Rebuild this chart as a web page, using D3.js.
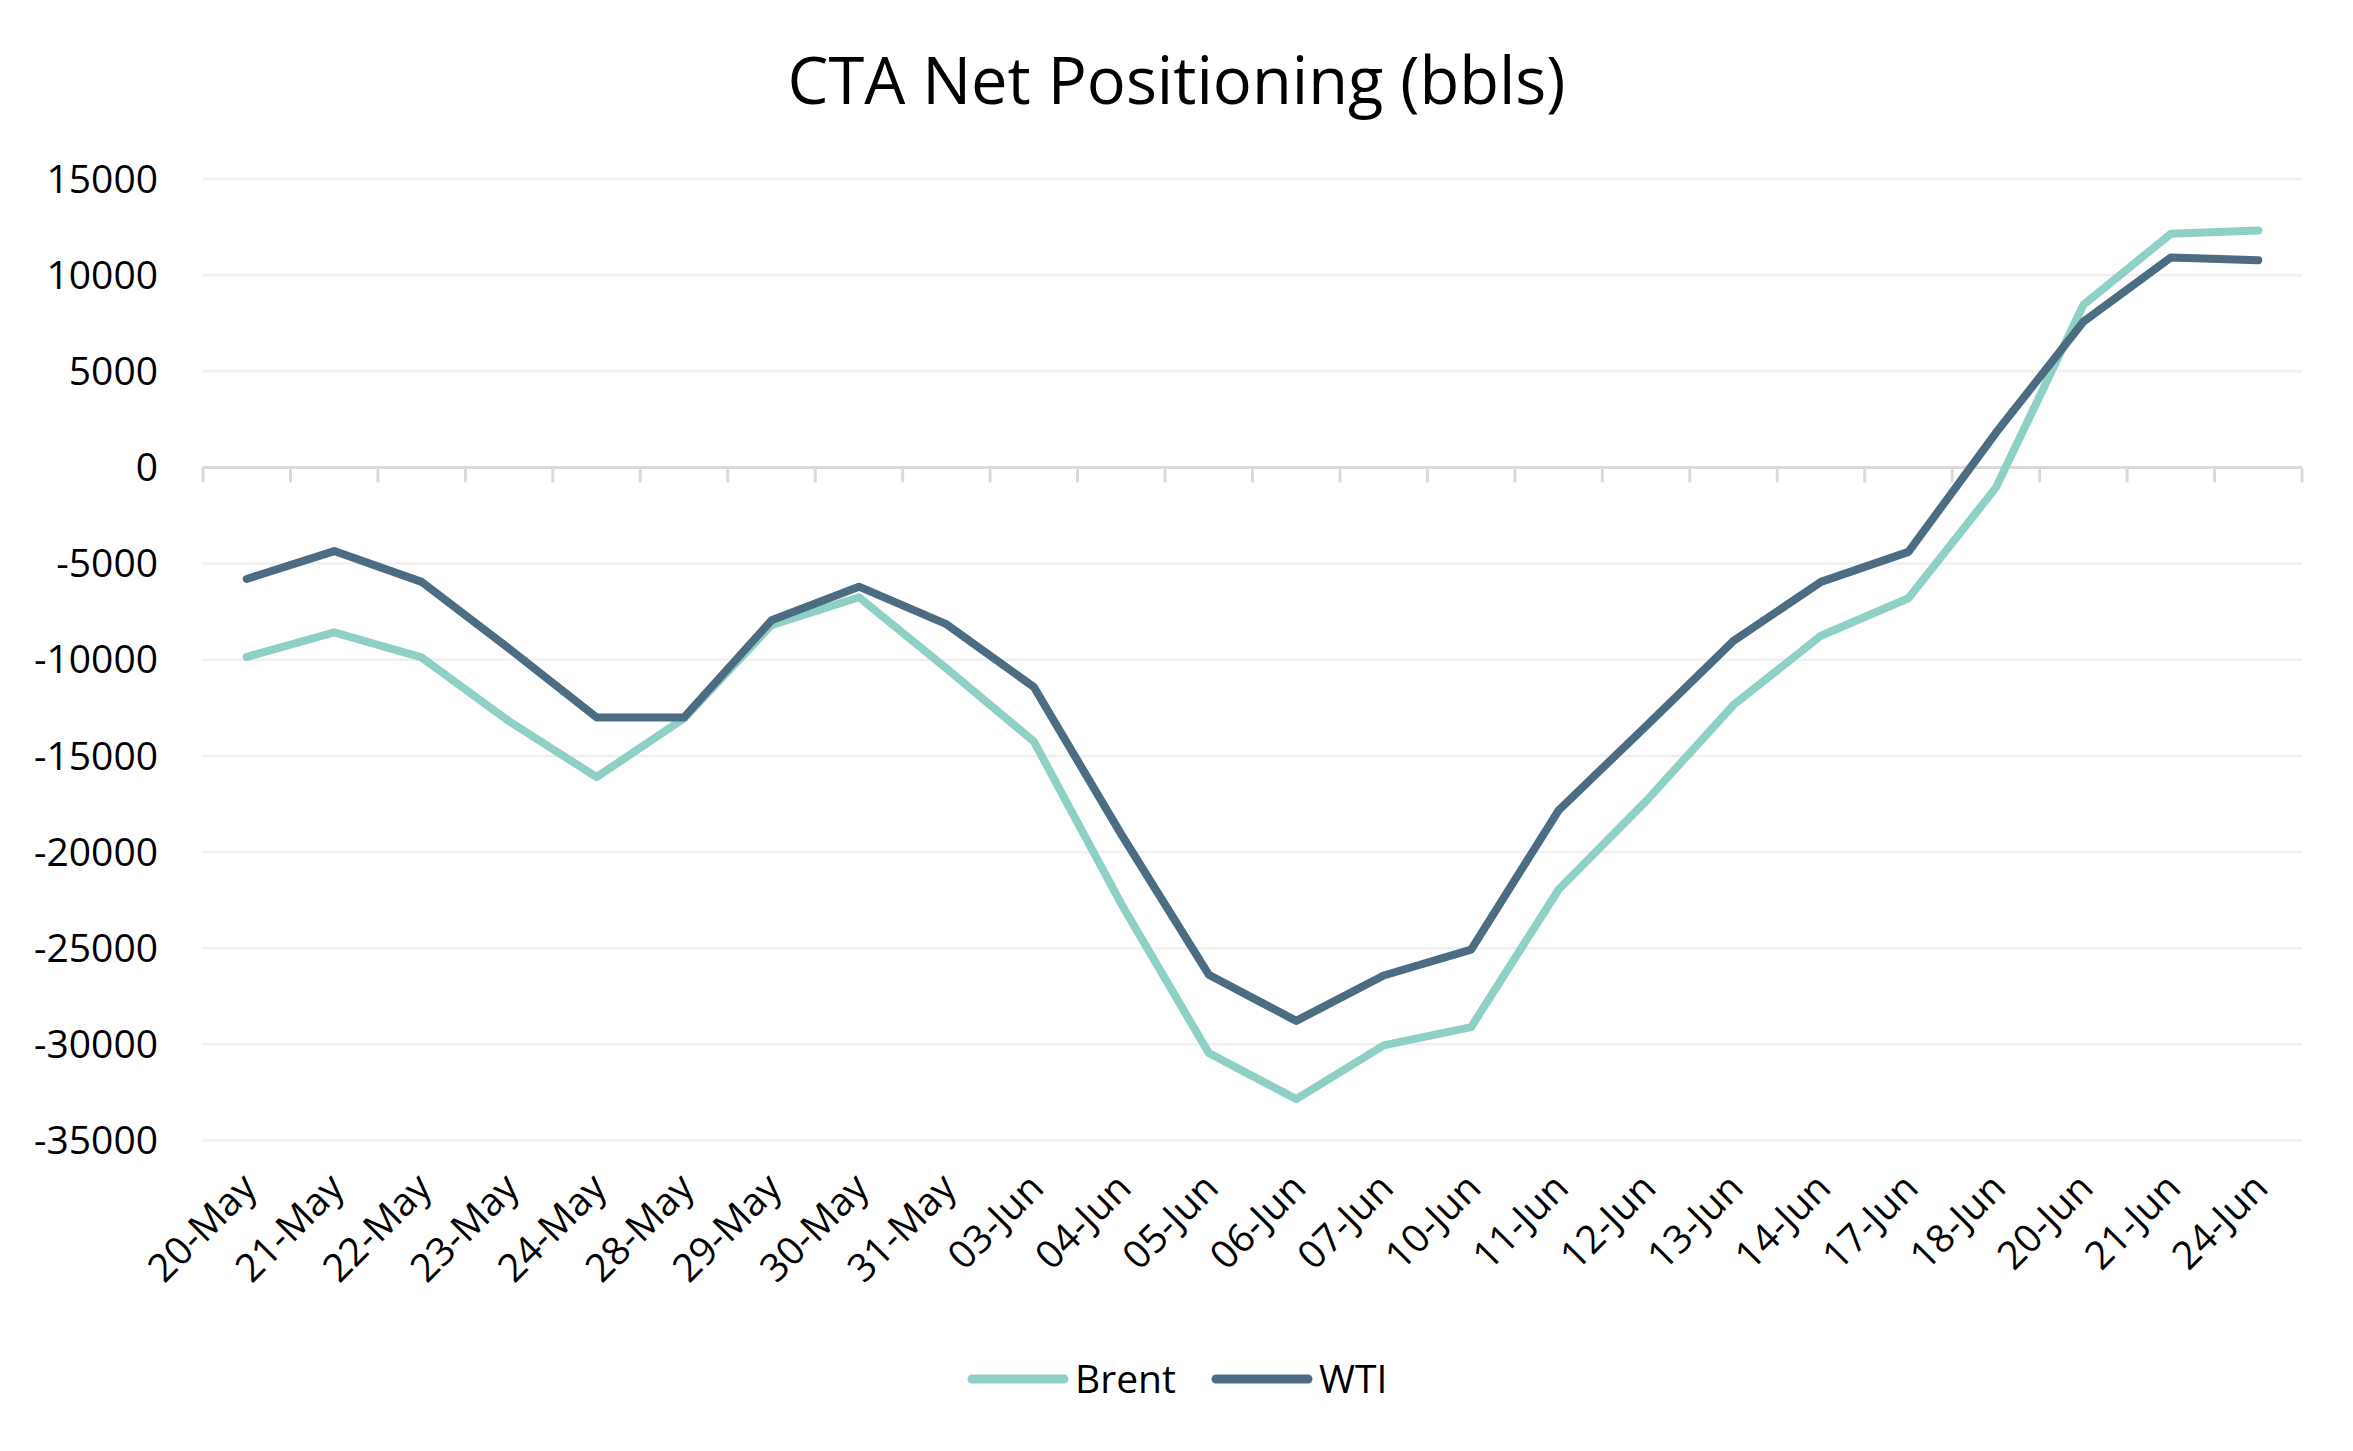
<!DOCTYPE html>
<html>
<head>
<meta charset="utf-8">
<script src="https://cdn.jsdelivr.net/npm/d3@7"></script>
<style>
  html, body { margin: 0; padding: 0; background: #fff; }
  svg { display: block; font-family: "Open Sans", "Noto Sans", sans-serif; }
</style>
</head>
<body>
<div id="chart"></div>
<script>
// categories (trading days)
var dates = ["20-May", "21-May", "22-May", "23-May", "24-May", "28-May", "29-May", "30-May",
  "31-May", "03-Jun", "04-Jun", "05-Jun", "06-Jun", "07-Jun", "10-Jun", "11-Jun", "12-Jun",
  "13-Jun", "14-Jun", "17-Jun", "18-Jun", "20-Jun", "21-Jun", "24-Jun"];

// net positioning, bbls
var brent = [-9850, -8580, -9880, -13200, -16100, -13050, -8200, -6750, -10450, -14250,
  -22700, -30450, -32850, -30050, -29100, -21950, -17350, -12350, -8750, -6800,
  -1050, 8450, 12150, 12320];
var wti = [-5800, -4350, -5950, -9420, -13000, -13000, -7950, -6200, -8150, -11420,
  -19080, -26380, -28780, -26420, -25070, -17830, -13450, -9020, -5950, -4390,
  1800, 7580, 10920, 10780];

var yTicks = [15000, 10000, 5000, 0, -5000, -10000, -15000, -20000, -25000, -30000, -35000];

var seriesNames = ["Brent", "WTI"];
var seriesColors = ["#8ed0c6", "#4c6c82"];

var width = 2353, height = 1451;
var plotLeft = 203, plotRight = 2302, plotTop = 179, plotBottom = 1140.5;

var svg = d3.select("#chart").append("svg")
  .attr("width", width)
  .attr("height", height);

var x = d3.scaleBand().domain(dates).range([plotLeft, plotRight]);
var y = d3.scaleLinear().domain([-35000, 15000]).range([plotBottom, plotTop]);

// title
svg.append("text")
  .attr("x", width / 2)
  .attr("y", 104)
  .attr("text-anchor", "middle")
  .attr("font-size", 65)
  .attr("font-weight", 500)
  .attr("fill", "#000")
  .text("CTA Net Positioning (bbls)");

// horizontal gridlines
svg.append("g")
  .selectAll("line")
  .data(yTicks.filter(function(d) { return d !== 0; }))
  .enter()
  .append("line")
  .attr("x1", plotLeft).attr("x2", plotRight)
  .attr("y1", function(d) { return y(d); })
  .attr("y2", function(d) { return y(d); })
  .attr("stroke", "#f0f0f0")
  .attr("stroke-width", 2.5);

// y labels
svg.append("g")
  .selectAll("text")
  .data(yTicks)
  .enter()
  .append("text")
  .attr("x", 158)
  .attr("y", function(d) { return y(d); })
  .attr("dy", "0.35em")
  .attr("text-anchor", "end")
  .attr("font-size", 39)
  .attr("fill", "#000")
  .text(function(d) { return d; });

// x axis sits on zero, ticks between categories
var xAxis = svg.append("g");
xAxis.append("line")
  .attr("x1", plotLeft).attr("x2", plotRight)
  .attr("y1", y(0)).attr("y2", y(0))
  .attr("stroke", "#d9d9d9")
  .attr("stroke-width", 3);

var bounds = dates.map(function(d) { return x(d); }).concat([plotRight]);
xAxis.selectAll("line.tick")
  .data(bounds)
  .enter()
  .append("line")
  .attr("class", "tick")
  .attr("x1", function(d) { return d; })
  .attr("x2", function(d) { return d; })
  .attr("y1", y(0))
  .attr("y2", y(0) + 15)
  .attr("stroke", "#d9d9d9")
  .attr("stroke-width", 3);

// rotated category labels along the bottom
svg.append("g")
  .selectAll("text")
  .data(dates)
  .enter()
  .append("text")
  .attr("transform", function(d) {
    var cx = x(d) + x.bandwidth() / 2;
    return "translate(" + (cx + 12) + "," + 1190 + ") rotate(-45)";
  })
  .attr("text-anchor", "end")
  .attr("font-size", 39)
  .attr("fill", "#000")
  .text(function(d) { return d; });

// lines
var line = d3.line()
  .x(function(d, i) { return x(dates[i]) + x.bandwidth() / 2; })
  .y(function(d) { return y(d); });

[brent, wti].forEach(function(vals, k) {
  svg.append("path")
    .datum(vals)
    .attr("d", line)
    .attr("fill", "none")
    .attr("stroke", seriesColors[k])
    .attr("stroke-width", 8)
    .attr("stroke-linecap", "round")
    .attr("stroke-linejoin", "round");
});

// legend
var legendX = [972, 1216];
var legend = svg.append("g");
seriesNames.forEach(function(name, k) {
  legend.append("line")
    .attr("x1", legendX[k]).attr("x2", legendX[k] + 92)
    .attr("y1", 1379).attr("y2", 1379)
    .attr("stroke", seriesColors[k])
    .attr("stroke-width", 9)
    .attr("stroke-linecap", "round");
  legend.append("text")
    .attr("x", legendX[k] + 103)
    .attr("y", 1379)
    .attr("dy", "0.35em")
    .attr("font-size", 39)
    .attr("fill", "#000")
    .text(name);
});
</script>
</body>
</html>
